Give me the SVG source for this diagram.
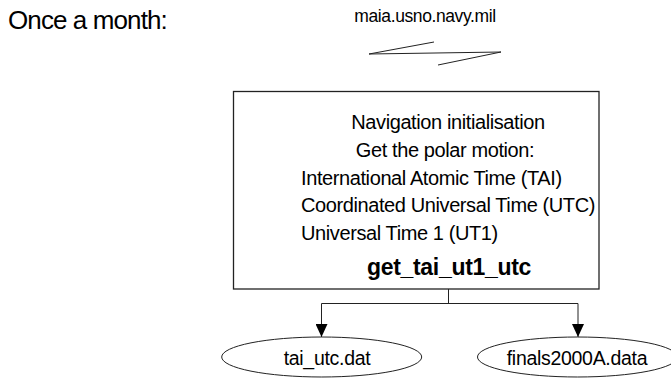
<svg xmlns="http://www.w3.org/2000/svg" width="671" height="378" viewBox="0 0 671 378">
  <style>
    text { font-family: "Liberation Sans", Arial, sans-serif; fill: #000; }
    .big { font-size: 26px; letter-spacing: -0.9px; }
    .host { font-size: 17.5px; letter-spacing: -0.4px; }
    .body { font-size: 20px; letter-spacing: -0.4px; }
    .fn { font-size: 23px; font-weight: bold; letter-spacing: -0.3px; }
    .file { font-size: 19.5px; letter-spacing: -0.3px; }
    .box { fill: #fff; stroke: #222; stroke-width: 1.3; }
    .oval { fill: #fff; stroke: #222; stroke-width: 1; }
    .wire { fill: none; stroke: #222; stroke-width: 1; }
  </style>
  <defs>
    <!-- filled arrowhead, drawn along +x so orient="auto" points it down the line -->
    <marker id="head" viewBox="0 0 13 12" refX="13" refY="6" markerWidth="13" markerHeight="12" markerUnits="userSpaceOnUse" orient="auto">
      <path d="M0,0 L13,6 L0,12 Z" fill="#000"/>
    </marker>
  </defs>
  <rect width="671" height="378" fill="#fff"/>

  <g id="schedule">
    <text class="big" x="8" y="29">Once a month:</text>
  </g>

  <g id="server">
    <text class="host" x="425" y="22" text-anchor="middle">maia.usno.navy.mil</text>
    <polyline class="wire" points="434,42 369,54 501,52 438,65"/>
  </g>

  <g id="init">
    <rect class="box" x="233.5" y="91.5" width="365.5" height="197.5"/>
    <text class="body" x="448" y="129" text-anchor="middle">Navigation initialisation</text>
    <text class="body" x="445" y="157" text-anchor="middle">Get the polar motion:</text>
    <text class="body" x="301" y="185">International Atomic Time (TAI)</text>
    <text class="body" x="301" y="212">Coordinated Universal Time (UTC)</text>
    <text class="body" x="301" y="240">Universal Time 1 (UT1)</text>
    <text class="fn" x="449" y="275" text-anchor="middle">get_tai_ut1_utc</text>
  </g>

  <g id="connectors">
    <polyline class="wire" points="448.5,289 448.5,303.5"/>
    <polyline class="wire" points="321.5,303.5 578,303.5"/>
    <line class="wire" x1="321.5" y1="303.5" x2="321.5" y2="337" marker-end="url(#head)"/>
    <line class="wire" x1="578" y1="303.5" x2="578" y2="337" marker-end="url(#head)"/>
  </g>

  <g id="tai_utc">
    <ellipse class="oval" cx="321.7" cy="357" rx="100" ry="20"/>
    <text class="file" x="327" y="365" text-anchor="middle">tai_utc.dat</text>
  </g>

  <g id="finals">
    <ellipse class="oval" cx="577.5" cy="357" rx="100" ry="20"/>
    <text class="file" x="577" y="365" text-anchor="middle">finals2000A.data</text>
  </g>
</svg>
